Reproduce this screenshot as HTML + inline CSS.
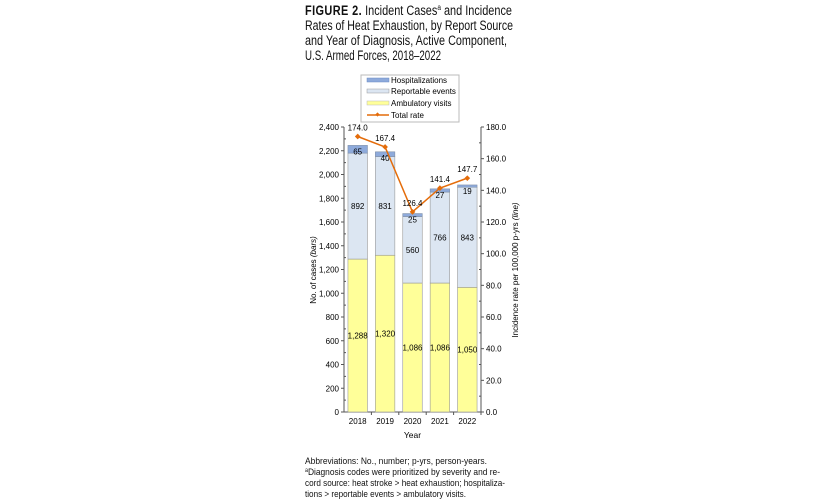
<!DOCTYPE html>
<html><head><meta charset="utf-8"><style>
body{margin:0;background:#fff;width:825px;height:503px;overflow:hidden;font-family:"Liberation Sans",sans-serif}
svg{position:absolute;left:0;top:0}
</style></head><body>
<svg width="825" height="503" id="c" font-family="Liberation Sans, sans-serif">
<g font-size="13.5" fill="#111">
<text x="305" y="15" textLength="207" lengthAdjust="spacingAndGlyphs"><tspan font-weight="bold" letter-spacing="0.5">FIGURE 2.</tspan> Incident Cases<tspan font-size="8" dy="-5">a</tspan><tspan dy="5"> and Incidence</tspan></text>
<text x="305" y="30" textLength="208" lengthAdjust="spacingAndGlyphs">Rates of Heat Exhaustion, by Report Source</text>
<text x="305" y="45" textLength="202" lengthAdjust="spacingAndGlyphs">and Year of Diagnosis, Active Component,</text>
<text x="305" y="60" textLength="136" lengthAdjust="spacingAndGlyphs">U.S. Armed Forces, 2018–2022</text>
</g>
<g font-size="8">
<rect x="361" y="75" width="98" height="47" fill="#fff" stroke="#bbb"/>
<rect x="367" y="78" width="22" height="4" fill="#8eaadb" stroke="#6b8cc4" stroke-width="0.5"/><text x="391" y="83">Hospitalizations</text>
<rect x="367" y="89" width="22" height="4" fill="#dce6f2" stroke="#999" stroke-width="0.5"/><text x="391" y="94">Reportable events</text>
<rect x="367" y="101" width="22" height="4" fill="#ffff99" stroke="#bbb" stroke-width="0.5"/><text x="391" y="106">Ambulatory visits</text>
<line x1="367" y1="115" x2="389" y2="115" stroke="#e46c0a" stroke-width="1.5"/><rect x="376" y="113" width="3" height="3" fill="#e46c0a" transform="rotate(45 377.5 114.5)"/><text x="391" y="118">Total rate</text>
</g>
<g id="plot"></g>
<g font-size="9.5" fill="#111">
<text x="305" y="464" textLength="182" lengthAdjust="spacingAndGlyphs">Abbreviations: No., number; p-yrs, person-years.</text>
<text x="305" y="475" textLength="195" lengthAdjust="spacingAndGlyphs"><tspan font-size="6" dy="-3">a</tspan><tspan dy="3">Diagnosis codes were prioritized by severity and re-</tspan></text>
<text x="305" y="486" textLength="200" lengthAdjust="spacingAndGlyphs">cord source: heat stroke &gt; heat exhaustion; hospitaliza-</text>
<text x="305" y="497" textLength="161" lengthAdjust="spacingAndGlyphs">tions &gt; reportable events &gt; ambulatory visits.</text>
</g>
</svg>
<script>
const years=["2018","2019","2020","2021","2022"];
const ambulatory=[1288,1320,1086,1086,1050];
const reportable=[892,831,560,766,843];
const hospital=[65,40,25,27,19];
const rates=[174.0,167.4,126.4,141.4,147.7];
const leftTicks=[0,200,400,600,800,1000,1200,1400,1600,1800,2000,2200,2400];
const rightTicks=[0,20,40,60,80,100,120,140,160,180];
const NS="http://www.w3.org/2000/svg";
const g=document.getElementById('plot');
const X0=344,X1=481,Y0=412,Y1=127;
const yL=v=>Y0-(v/2400)*(Y0-Y1);
const yR=v=>Y0-(v/180)*(Y0-Y1);
const bw=(X1-X0)/years.length;
const xc=i=>X0+bw*(i+0.5);
function el(t,a,txt){const e=document.createElementNS(NS,t);for(const k in a)e.setAttribute(k,a[k]);if(txt!=null)e.textContent=txt;g.appendChild(e);return e;}
function fmt(v){return v.toLocaleString('en-US');}
let e=el('line',{x1:X0,y1:Y1,x2:X0,y2:Y0,stroke:'#555'});

e=el('line',{x1:X1,y1:Y1,x2:X1,y2:Y0,stroke:'#555'});

e=el('line',{x1:X0,y1:Y0,x2:X1,y2:Y0,stroke:'#555'});

leftTicks.forEach(v=>{const y=yL(v);el('line',{x1:X0-3,y1:y,x2:X0,y2:y,stroke:'#555'});
 if(v<2400)el('line',{x1:X0,y1:yL(v+100),x2:X0+2,y2:yL(v+100),stroke:'#555'});
 e=el('text',{x:X0-5,y:y+3,'font-size':8,'text-anchor':'end'},fmt(v));
 });
rightTicks.forEach(v=>{const y=yR(v);el('line',{x1:X1,y1:y,x2:X1+3,y2:y,stroke:'#555'});
 if(v<180)el('line',{x1:X1-2,y1:yR(v+10),x2:X1,y2:yR(v+10),stroke:'#555'});
 e=el('text',{x:X1+5,y:y+3,'font-size':8},v.toFixed(1));
 });
years.forEach((yr,i)=>{
 el('line',{x1:X0+bw*(i+1),y1:Y0,x2:X0+bw*(i+1),y2:Y0+3,stroke:'#555'});
 e=el('text',{x:xc(i),y:Y0+12,'font-size':8,'text-anchor':'middle'},yr);
 
 const w=19.5,x=xc(i)-w/2;
 const a=ambulatory[i],r=reportable[i],h=hospital[i];
 e=el('rect',{x:x,y:yL(a),width:w,height:yL(0)-yL(a),fill:'#ffff99',stroke:'#999','stroke-width':0.6});
 
 e=el('rect',{x:x,y:yL(a+r),width:w,height:yL(a)-yL(a+r),fill:'#dce6f2',stroke:'#999','stroke-width':0.6});
 
 e=el('rect',{x:x,y:yL(a+r+h),width:w,height:yL(a+r)-yL(a+r+h),fill:'#8eaadb',stroke:'#7f8fa8','stroke-width':0.6});
 
 el('text',{x:xc(i),y:yL(a/2)+3,'font-size':8,'text-anchor':'middle'},fmt(a));
 el('text',{x:xc(i),y:yL(a+r/2)+3,'font-size':8,'text-anchor':'middle'},fmt(r));
 el('text',{x:xc(i),y:yL(a+r+h)+9,'font-size':8,'text-anchor':'middle'},fmt(h));
});
const pts=rates.map((v,i)=>xc(i)+','+yR(v)).join(' ');
e=el('polyline',{points:pts,fill:'none',stroke:'#e46c0a','stroke-width':1.5});

rates.forEach((v,i)=>{const x=xc(i),y=yR(v);
 e=el('rect',{x:x-2,y:y-2,width:4,height:4,fill:'#e46c0a',transform:`rotate(45 ${x} ${y})`});
 
 el('text',{x:x,y:y-6,'font-size':8,'text-anchor':'middle'},v.toFixed(1));});
e=el('text',{x:X0+(X1-X0)/2,y:438,'font-size':8.5,'text-anchor':'middle'},'Year');

e=el('text',{x:0,y:0,'font-size':8,'text-anchor':'middle',transform:'translate(316,270) rotate(-90)'},'');
e.innerHTML='No. of cases <tspan font-style="italic">(bars)</tspan>';

e=el('text',{x:0,y:0,'font-size':8,'text-anchor':'middle',transform:'translate(518,270) rotate(-90)'},'');
e.innerHTML='Incidence rate per 100,000 p-yrs <tspan font-style="italic">(line)</tspan>';

</script>
</body></html>
